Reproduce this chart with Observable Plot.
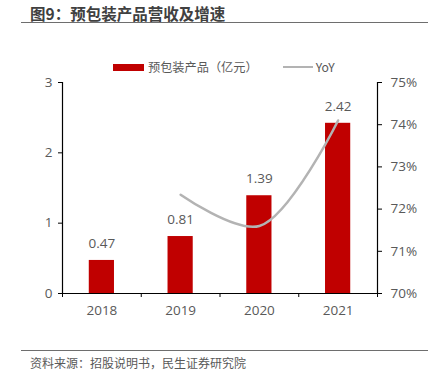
<!DOCTYPE html>
<html><head><meta charset="utf-8">
<script src="https://cdn.jsdelivr.net/npm/d3@7"></script>
<script src="https://cdn.jsdelivr.net/npm/@observablehq/plot@0.6"></script>
<style>
body{margin:0;background:#fff;}
#wrap{position:relative;width:442px;height:385px;overflow:hidden;font-family:"Open Sans","Noto Sans CJK SC",sans-serif;color:#595959;}
#title{position:absolute;left:30px;top:2px;font-size:15.5px;font-weight:bold;color:#404040;font-family:"Noto Sans CJK SC",sans-serif;white-space:nowrap;}
.hr{position:absolute;left:21px;width:407px;height:0;border-top:1.5px solid #6e6e6e;}
#legend{position:absolute;top:58px;left:113px;font-size:12.2px;display:flex;align-items:center;white-space:nowrap;font-family:"Noto Sans CJK SC",sans-serif;}
#src{position:absolute;left:30px;top:354px;font-size:12px;font-family:"Noto Sans CJK SC",sans-serif;white-space:nowrap;}
#chart{position:absolute;left:0;top:0;}
</style></head>
<body>
<div id="wrap">
  <div id="title"></div>
  <div class="hr" style="top:22px"></div>
  <div id="legend"></div>
  <div id="chart"></div>
  <div class="hr" style="top:350px"></div>
  <div id="src"></div>
</div>
<script>
const titleText = "图9：预包装产品营收及增速";
const sourceText = "资料来源：招股说明书，民生证券研究院";
const barName = "预包装产品（亿元）";
const lineName = "YoY";
const years = [2018, 2019, 2020, 2021];
const revenue = [0.47, 0.81, 1.39, 2.42];
const yoyYears = [2019, 2020, 2021];
const yoyValues = [72.34, 71.60, 74.10];
const leftTicks = [0, 1, 2, 3];
const rightTicks = [70, 71, 72, 73, 74, 75];

const red = "#c00000", gray = "#b3b3b3", txt = "#595959";

document.getElementById("title").textContent = titleText;
document.getElementById("src").textContent = sourceText;
document.getElementById("legend").innerHTML =
  `<span style="display:inline-block;width:31px;height:7px;background:${red};margin-right:4px"></span>${barName}` +
  `<span style="display:inline-block;width:30px;height:2.5px;background:${gray};margin-left:25px;margin-right:3px"></span>${lineName}`;

const bars = years.map((y, i) => ({year: y, value: revenue[i]}));
const yoy = yoyYears.map((y, i) => ({year: y, yoy: yoyValues[i]}));
const toLeft = v => (v - 70) * 0.6;   // 70%..75% -> 0..3
const half = 0.16;
const bounds = [years[0] - 0.5, ...years.map(y => y + 0.5)];

const plot = Plot.plot({
  width: 442, height: 385,
  marginLeft: 62, marginRight: 65, marginTop: 82, marginBottom: 92,
  style: {fontFamily: '"Open Sans","Noto Sans CJK SC",sans-serif', fontSize: "13px", color: txt, background: "transparent"},
  x: {type: "linear", domain: [bounds[0], bounds[bounds.length - 1]], label: null},
  y: {domain: [0, 3], label: null},
  marks: [
    Plot.rectY(bars, {x1: d => d.year - half, x2: d => d.year + half, y: "value", fill: red}),
    Plot.text(bars, {x: "year", y: "value", text: d => d.value.toFixed(2), dy: -17, fill: txt, fontSize: 13.5}),
    Plot.line(yoy, {x: "year", y: d => toLeft(d.yoy), curve: "catmull-rom", stroke: gray, strokeWidth: 2.5}),
    Plot.ruleY([0], {stroke: "#000", strokeWidth: 1.2}),
    Plot.ruleX([bounds[0], bounds[bounds.length - 1]], {y1: 0, y2: 3, stroke: "#000", strokeWidth: 1.2}),
    Plot.axisX({ticks: bounds, tickFormat: () => "", tickSize: 4, stroke: "#000", label: null}),
    Plot.axisX({ticks: years, tickFormat: d => String(d), tickSize: 0, tickPadding: 12, fill: txt, fontSize: 13.5, label: null}),
    Plot.axisY({anchor: "left", ticks: leftTicks, tickFormat: d => String(d), tickSize: 4, tickPadding: 6, stroke: "#000", fill: txt, fontSize: 13.5, label: null}),
    Plot.axisY({anchor: "right", ticks: rightTicks.map(toLeft), tickFormat: v => Math.round(v / 0.6 + 70) + "%", tickSize: 4, tickPadding: 9, stroke: "#000", fill: txt, fontSize: 13.5, label: null})
  ]
});
document.getElementById("chart").appendChild(plot);
</script>
</body></html>
